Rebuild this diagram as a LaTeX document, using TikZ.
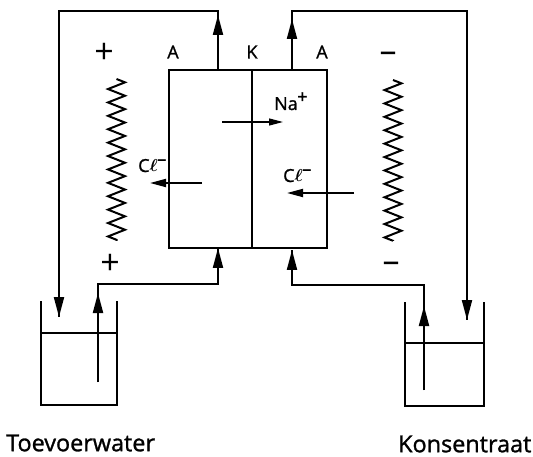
\documentclass[tikz,border=0pt]{standalone}
\usepackage{fontspec}
\setmainfont{Open Sans}
\usetikzlibrary{arrows.meta,decorations.pathmorphing}
\newcommand{\fb}{\addfontfeatures{FakeBold=1.2}\boldmath}
\newcommand{\ionsup}[1]{\raisebox{7pt}{\kern-0.5pt #1}}
\tikzset{
  pipe/.style={line width=2pt,line join=miter},
  pipehead/.style={pipe,-{Triangle[length=20pt,width=10pt]},shorten >=0pt},
  wall/.style={line width=1.9pt},
  ion/.style={line width=1.3pt,-{Triangle[length=14pt,width=7pt]}},
  ionbold/.style={line width=1.8pt,-{Triangle[length=16pt,width=8pt]}},
  spring/.style={line width=2pt,decorate,decoration={zigzag,segment length=13.4pt,amplitude=8.5pt}},
  lab/.style={inner sep=0pt,font=\fontsize{18}{20}\selectfont\fb},
  sign/.style={inner sep=0pt,font=\fontsize{34}{36}\selectfont},
  captext/.style={inner sep=0pt,font=\fontsize{23.4}{26}\selectfont\fb},
}
\begin{document}
\begin{tikzpicture}[x=1pt,y=-1pt]
\useasboundingbox (0,0) rectangle (533,457);
% coordinates of the cell
\coordinate (bTL) at (169,70);
\coordinate (bTK) at (252,70);
\coordinate (bTR) at (327,70);
\coordinate (bBL) at (169,248);
\coordinate (bBK) at (252,248);
\coordinate (bBR) at (327,248);
\coordinate (outL) at (218,70);
\coordinate (outR) at (292,70);
\coordinate (inL) at (218,248);
\coordinate (inR) at (292,250);
% cell
\draw[wall] (bTL) rectangle (bBR);
\draw[line width=1.5pt] (bTK) -- (bBK);
% left tank
\coordinate (tLa) at (41,301);
\coordinate (tLb) at (41,405);
\coordinate (tLc) at (117,405);
\coordinate (tLd) at (117,301);
\coordinate (wLa) at (41,333);
\coordinate (wLb) at (117,333);
\draw[wall] (tLa) -- (tLb) -- (tLc) -- (tLd);
\draw[line width=1.4pt] (wLa) -- (wLb);
% right tank
\coordinate (tRa) at (405,302);
\coordinate (tRb) at (405,406);
\coordinate (tRc) at (484,406);
\coordinate (tRd) at (484,302);
\coordinate (wRa) at (405,343);
\coordinate (wRb) at (484,343);
\draw[wall] (tRa) -- (tRb) -- (tRc) -- (tRd);
\draw[line width=1.4pt] (wRa) -- (wRb);
% loop pipes
\coordinate (lTop) at (218,11);
\coordinate (lCorner) at (59,11);
\coordinate (lEnd) at (59,317);
\coordinate (rTop) at (292,11);
\coordinate (rCorner) at (467,11);
\coordinate (rEnd) at (467,320);
\draw[pipe] (outL) -- (lTop) -- (lCorner) -- (lEnd);
\draw[pipe] (outR) -- (rTop) -- (rCorner) -- (rEnd);
\coordinate (lUpHead) at (218,15);
\coordinate (rUpHead) at (292,19);
\draw[pipehead] (outL) -- (lUpHead);
\draw[pipehead] (outR) -- (rUpHead);
\draw[pipehead] (lCorner) -- (lEnd);
\draw[pipehead] (rCorner) -- (rEnd);
% return pipes
\coordinate (lFoot) at (98,382);
\coordinate (lKnee) at (98,284);
\coordinate (lElbow) at (218,284);
\coordinate (rFoot) at (424,390);
\coordinate (rKnee) at (424,285);
\coordinate (rElbow) at (292,285);
\coordinate (lMid) at (98,293);
\coordinate (rMid) at (424,306);
\draw[pipe] (lFoot) -- (lKnee) -- (lElbow) -- (inL);
\draw[pipe] (rFoot) -- (rKnee) -- (rElbow) -- (inR);
\draw[pipehead] (lFoot) -- (lMid);
\draw[pipehead] (rFoot) -- (rMid);
\draw[pipehead] (lElbow) -- (inL);
\draw[pipehead] (rElbow) -- (inR);
% ion arrows
\coordinate (naA) at (222,122);
\coordinate (naB) at (283,122);
\coordinate (clLa) at (202,183);
\coordinate (clLb) at (150,183);
\coordinate (clRa) at (354,193);
\coordinate (clRb) at (287,193);
\draw[ion] (naA) -- (naB);
\draw[ionbold] (clLa) -- (clLb);
\draw[ionbold] (clRa) -- (clRb);
% heating electrodes
\coordinate (sLa) at (116.5,79);
\coordinate (sLb) at (116.5,241);
\coordinate (sRa) at (393,80);
\coordinate (sRb) at (393,241);
\draw[spring] (sLa) -- (sLb);
\draw[spring] (sRa) -- (sRb);
% labels
\node[sign] (pT) at (104,53) {+};
\node[sign] (pB) at (110,264) {+};
\node[sign] (mT) at (388,57) {–};
\node[sign] (mB) at (391,267) {–};
\node[lab] (aL) at (173,52) {A};
\node[lab] (kK) at (252,52) {K};
\node[lab] (aR) at (322,52) {A};
\node[lab,anchor=base west] (na) at (274,110) {Na\ionsup{+}};
\node[lab,anchor=base west] (clL) at (138,172) {C$\ell$\ionsup{–}};
\node[lab,anchor=base west] (clR) at (283,182) {C$\ell$\ionsup{–}};
\node[captext,anchor=west] (t1) at (6,443) {Toevoerwater};
\node[captext,anchor=west] (t2) at (398,444) {Konsentraat};
\end{tikzpicture}
\end{document}
